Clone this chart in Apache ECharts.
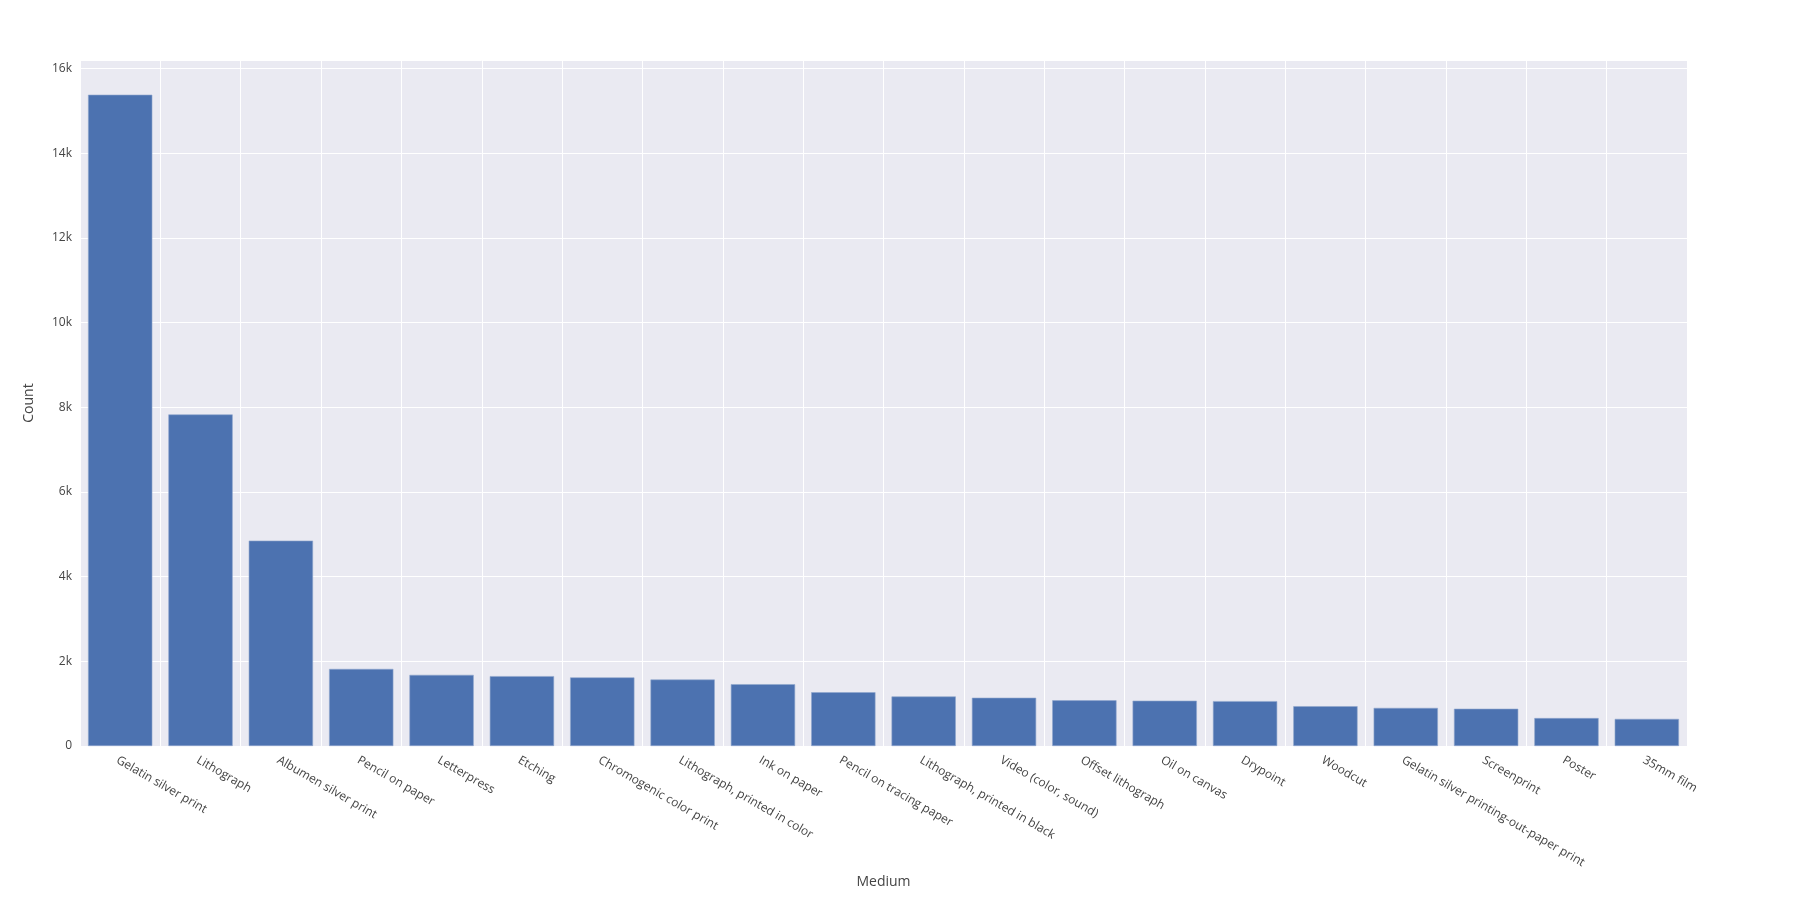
<!DOCTYPE html><html><head><meta charset="utf-8"><script src="https://cdn.jsdelivr.net/npm/echarts@6/dist/echarts.min.js"></script>
<style>html,body{margin:0;padding:0;background:#fff}#c{width:1800px;height:900px}</style></head><body><div id="c"></div><script>
const categories=["Gelatin silver print","Lithograph","Albumen silver print","Pencil on paper","Letterpress","Etching","Chromogenic color print","Lithograph, printed in color","Ink on paper","Pencil on tracing paper","Lithograph, printed in black","Video (color, sound)","Offset lithograph","Oil on canvas","Drypoint","Woodcut","Gelatin silver printing-out-paper print","Screenprint","Poster","35mm film"];
const counts=[15380,7830,4850,1820,1680,1650,1620,1570,1460,1270,1170,1140,1080,1070,1060,940,900,880,660,640];
const yTicks=[0,2000,4000,6000,8000,10000,12000,14000,16000];
const font='"Open Sans", "DejaVu Sans", sans-serif';
const ch=echarts.init(document.getElementById('c'));
ch.setOption({
 animation:false,
 grid:{left:80,right:113,top:60,bottom:154,containLabel:false,backgroundColor:'#eaeaf2',show:true,borderWidth:0},
 xAxis:{type:'category',data:categories,name:'Medium',nameLocation:'middle',nameGap:91,nameTextStyle:{fontFamily:font,fontSize:14,color:'#444'},
  axisLine:{show:false},axisTick:{show:false},
  axisLabel:{rotate:-30,interval:0,fontFamily:font,fontSize:12,color:'#444',margin:8,align:'left',verticalAlign:'top'},
  splitLine:{show:true,interval:0,lineStyle:{color:'#fff',width:1}},boundaryGap:true},
 yAxis:{type:'value',min:0,max:16200,interval:2000,name:'Count',nameLocation:'middle',nameGap:44,nameTextStyle:{fontFamily:font,fontSize:14,color:'#444'},
  axisLine:{show:false},axisTick:{show:false},
  axisLabel:{fontFamily:font,fontSize:12,color:'#444',formatter:v=>yTicks.includes(v)?(v===0?'0':(v/1000)+'k'):''},
  splitLine:{lineStyle:{color:'#fff',width:1}}},
 series:[{type:'bar',data:counts,barCategoryGap:'20%',itemStyle:{color:'#4c72b0',borderColor:'#8fa6cc',borderWidth:0.6}}]
});
</script></body></html>
